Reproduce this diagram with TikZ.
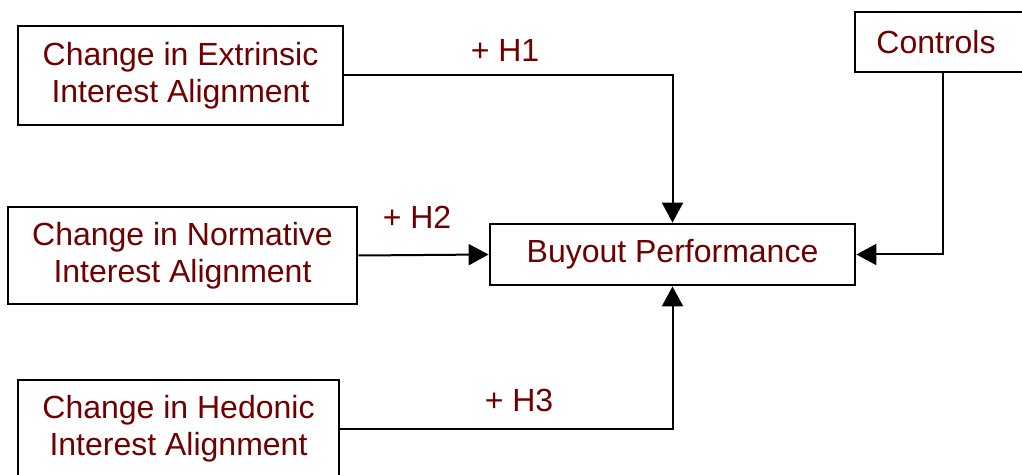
\documentclass[tikz,border=0pt]{standalone}
\usepackage{fontspec}
\setmainfont{Liberation Sans}
\usetikzlibrary{arrows.meta}
\definecolor{labelred}{RGB}{112,0,0}
\begin{document}
\begin{tikzpicture}[x=1pt,y=1pt,
  box/.style={draw=black, line width=2.8pt, fill=white, text=labelred,
    align=center, inner sep=0pt, font=\fontsize{32}{37}\selectfont},
  hyp/.style={text=labelred, inner sep=0pt, font=\fontsize{32}{37}\selectfont},
  link/.style={draw=black, line width=2pt, -{Triangle[length=20pt,width=21pt]}}]
  \useasboundingbox (0,0) rectangle (1022,474);

  % construct boxes
  \node[box, minimum width=325pt, minimum height=99pt] (ext) at (180.5,398.5)
    {Change in Extrinsic\\Interest Alignment};
  \node[box, minimum width=349pt, minimum height=97pt] (norm) at (182.5,218.5)
    {Change in Normative\\Interest Alignment};
  \node[box, minimum width=321pt, minimum height=97pt] (hed) at (178.5,45.5)
    {Change in Hedonic\\Interest Alignment};
  \node[box, minimum width=365pt, minimum height=61pt] (buy) at (672.5,219.5)
    {Buyout Performance};
  \node[box, minimum width=175pt, minimum height=60pt] (ctrl) at (942.5,432)
    {\hspace*{-13pt}Controls};

  % hypothesised paths
  \draw[link] (ext.east) -| (buy.north);
  \draw[link] (norm.east) -- (buy.west);
  \draw[link] (hed.east) -| (buy.south);
  \draw[link] (ctrl.south) |- (buy.east);

  % hypothesis labels
  \node[hyp] (h1) at (505,424) {+ H1};
  \node[hyp] (h2) at (417,257) {+ H2};
  \node[hyp] (h3) at (519,74) {+ H3};
\end{tikzpicture}
\end{document}
